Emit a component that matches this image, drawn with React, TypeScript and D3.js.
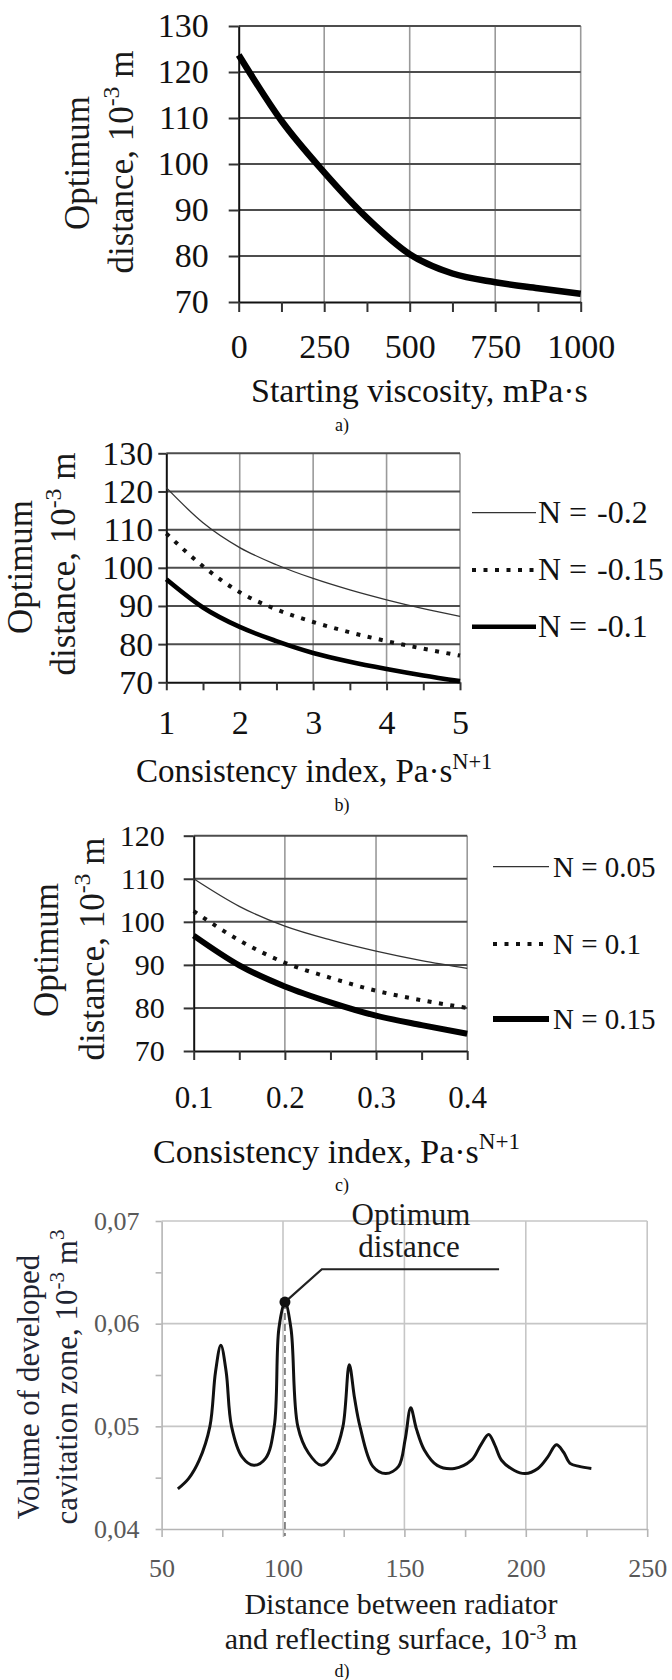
import React, { useEffect, useRef } from 'react';
import * as d3 from 'd3';

// ---------- data ----------
// a) optimum distance vs starting viscosity
const viscosity = [0, 125, 250, 375, 500, 625, 750, 875, 1000];
const optimumByViscosity = [123.7, 109.4, 98.2, 88.3, 80.4, 76.2, 74.3, 73.0, 71.8];
const viscosityTicks = [0, 125, 250, 375, 500, 625, 750, 875, 1000];
const viscosityTickLabels = ['0', '', '250', '', '500', '', '750', '', '1000'];
const optimumTicksAB = [70, 80, 90, 100, 110, 120, 130];

// b) consistency index, N < 0
const consistencyB = [1, 1.5, 2, 2.5, 3, 3.5, 4, 4.5, 5];
const optimumNm02 = [121, 111.8, 105.3, 100.8, 97.2, 94.2, 91.6, 89.3, 87.3];
const optimumNm015 = [109, 100.4, 93.6, 89.1, 85.8, 83.1, 80.8, 78.8, 77];
const optimumNm01 = [97, 89.6, 84.5, 80.8, 77.7, 75.4, 73.5, 71.8, 70.3];
const consistencyBTicks = [1, 1.5, 2, 2.5, 3, 3.5, 4, 4.5, 5];
const consistencyBTickLabels = ['1', '', '2', '', '3', '', '4', '', '5'];
const legendB = ['-0.2', '-0.15', '-0.1'];

// c) consistency index, N > 0
const consistencyC = [0.1, 0.15, 0.2, 0.25, 0.3, 0.35, 0.4];
const optimumN005 = [110, 103.6, 99, 95.8, 93.2, 91, 89.2];
const optimumN01 = [102.5, 95.7, 90.5, 87, 84, 81.8, 80];
const optimumN015 = [96.8, 89.9, 85, 81.3, 78.2, 76, 74];
const consistencyCTicks = [0.1, 0.15, 0.2, 0.25, 0.3, 0.35, 0.4];
const consistencyCTickLabels = ['0.1', '', '0.2', '', '0.3', '', '0.4'];
const optimumTicksC = [70, 80, 90, 100, 110, 120];
const legendC = ['0.05', '0.1', '0.15'];

// d) volume of developed cavitation zone vs distance
const distanceD = [56.7, 61.1, 65.5, 69.9, 72.2, 74.4, 76.6, 78.8, 83.2, 88.0, 92.9, 96.4, 98.3, 100.8, 103.3,
  106.1, 110.5, 115.8, 121.1, 124.7, 127.3, 129.5, 131.7, 137, 142.3, 147.6, 150.3, 152.6, 155, 158.2, 163.5,
  170.6, 177.6, 181.5, 184.7, 187.2, 190, 195.3, 199.7, 205, 209, 212.6, 215.5, 218.2, 222, 227];
const volumeD = [0.0439, 0.0449, 0.0467, 0.050, 0.0553, 0.0579, 0.0553, 0.050, 0.047, 0.0462, 0.0469, 0.050,
  0.0595, 0.0621, 0.0595, 0.050, 0.0474, 0.0462, 0.0474, 0.050, 0.056, 0.0527, 0.05, 0.0461, 0.0454, 0.0461,
  0.0487, 0.0518, 0.0497, 0.0477, 0.0462, 0.0459, 0.0467, 0.0482, 0.0492, 0.0482, 0.0467, 0.0457, 0.0454,
  0.0459, 0.047, 0.0482, 0.0475, 0.0464, 0.0461, 0.0459];
const distanceTicks = [50, 75, 100, 125, 150, 175, 200, 225, 250];
const distanceTickLabels = ['50', '', '100', '', '150', '', '200', '', '250'];
const volumeTicks = [0.04, 0.045, 0.05, 0.055, 0.06, 0.065, 0.07];
const volumeTickLabels = ['0,04', '', '0,05', '', '0,06', '', '0,07'];
const optimumPoint = [100.8, 0.0621];
const optimumLeader = [[100.8, 0.0621], [116, 0.0653], [189, 0.0653]];

const FONT = "'Liberation Serif', 'DejaVu Serif', serif";

const LINE = {
  thin: { width: 1.3, dash: null, color: '#333' },
  dotted: { width: 4, dash: '4 7.5', color: '#111' },
  thick: { width: 5, dash: null, color: '#000' },
};

// serif text helper: sets family through inline style so it wins over the axis defaults
function font(sel, size, color) {
  return sel.attr('font-family', null).style('font-family', FONT).style('font-size', `${size}px`).attr('fill', color);
}

function superLabel(sel, parts, rise = 0.6) {
  parts.forEach(([t, sup], i) => {
    const prevSup = i > 0 && parts[i - 1][1];
    const ts = sel.append('tspan').text(t);
    if (sup) ts.style('font-size', '0.68em').attr('dy', `-${rise}em`);
    else if (prevSup) ts.attr('dy', `${(rise * 0.68).toFixed(3)}em`);
  });
}

function drawOptimumPanel(svg, p) {
  const { box } = p;
  const x = d3.scaleLinear().domain(d3.extent(p.xTicks)).range([box.left, box.right]);
  const y = d3.scaleLinear().domain(d3.extent(p.yTicks)).range([box.bottom, box.top]);
  const g = svg.append('g');
  const majorX = p.xTicks.filter((_, i) => p.xLabels[i] !== '');

  g.append('g').selectAll('line').data(majorX.slice(1)).join('line')
    .attr('x1', d => x(d)).attr('x2', d => x(d)).attr('y1', box.top).attr('y2', box.bottom)
    .attr('stroke', '#9a9a9a').attr('stroke-width', 1.6);
  g.append('g').selectAll('line').data(p.yTicks.slice(1)).join('line')
    .attr('x1', box.left).attr('x2', box.right).attr('y1', d => y(d)).attr('y2', d => y(d))
    .attr('stroke', '#4d4d4d').attr('stroke-width', 2);

  const yAxis = d3.axisLeft(y).tickValues(p.yTicks).tickSize(p.yTickLen).tickSizeOuter(0)
    .tickPadding(p.yPad).tickFormat(d3.format('d'));
  g.append('g').attr('transform', `translate(${box.left},0)`).call(yAxis)
    .call(s => s.select('.domain').attr('stroke', '#111').attr('stroke-width', 2))
    .call(s => s.selectAll('.tick line').attr('stroke', '#333').attr('stroke-width', 2))
    .call(s => font(s.selectAll('text'), p.tickSize, '#111'));

  const xAxis = d3.axisBottom(x).tickValues(p.xTicks).tickSize(p.xTickLen).tickSizeOuter(0)
    .tickFormat((d, i) => p.xLabels[i]);
  g.append('g').attr('transform', `translate(0,${box.bottom})`).call(xAxis)
    .call(s => s.select('.domain').attr('stroke', '#111').attr('stroke-width', 2))
    .call(s => s.selectAll('.tick line').attr('stroke', '#333').attr('stroke-width', 2))
    .call(s => font(s.selectAll('text'), p.xTickSize || p.tickSize, '#111')
      .attr('y', p.xLabelBase - box.bottom).attr('dy', 0));

  const line = d3.line().x(d => x(d[0])).y(d => y(d[1])).curve(d3.curveMonotoneX);
  p.series.forEach(s => {
    const st = { ...LINE[s.kind], ...(s.width ? { width: s.width } : {}) };
    g.append('path').datum(s.x.map((v, i) => [v, s.y[i]]))
      .attr('d', line).attr('fill', 'none').attr('stroke', st.color)
      .attr('stroke-width', st.width).attr('stroke-dasharray', st.dash)
      .attr('stroke-linejoin', 'round');
  });

  if (p.legend) {
    const L = p.legend;
    p.series.forEach((s, i) => {
      const st = { ...LINE[s.kind], ...(s.width ? { width: s.width } : {}) };
      g.append('line').attr('x1', L.x1).attr('x2', L.x2).attr('y1', L.ys[i]).attr('y2', L.ys[i])
        .attr('stroke', st.color).attr('stroke-width', st.width)
        .attr('stroke-dasharray', st.dash);
      const t = font(g.append('text').attr('y', L.ys[i] + L.baseOff), L.size, '#111');
      if (L.valueX) {
        t.append('tspan').attr('x', L.textX).text('N =');
        t.append('tspan').attr('x', L.valueX).text(L.labels[i]);
      } else {
        t.attr('x', L.textX).text(`N = ${L.labels[i]}`);
      }
    });
  }

  // axis titles
  p.yTitle.forEach(l => {
    const t = font(g.append('text').attr('transform', `translate(${l.x},${l.y}) rotate(-90)`)
      .attr('text-anchor', 'middle'), 35, '#1a1a1a');
    superLabel(t, l.parts);
  });
  const xt = font(g.append('text').attr('x', p.xTitle.x).attr('y', p.xTitle.y), p.xTitle.size, '#111');
  superLabel(xt, p.xTitle.parts);

  font(g.append('text').attr('x', 342).attr('y', p.caption.y).attr('text-anchor', 'middle'), 18, '#111')
    .text(p.caption.text);
}

function drawVolumePanel(svg) {
  const box = { left: 161.6, right: 647.2, top: 1221, bottom: 1529 };
  const x = d3.scaleLinear().domain(d3.extent(distanceTicks)).range([box.left, box.right]);
  const y = d3.scaleLinear().domain(d3.extent(volumeTicks)).range([box.bottom, box.top]);
  const g = svg.append('g');
  const grid = '#c6c6c6';
  const majorX = distanceTicks.filter((_, i) => distanceTickLabels[i] !== '');
  const majorY = volumeTicks.filter((_, i) => volumeTickLabels[i] !== '');

  g.append('g').selectAll('line').data(majorX.slice(1)).join('line')
    .attr('x1', d => x(d)).attr('x2', d => x(d)).attr('y1', box.top).attr('y2', box.bottom)
    .attr('stroke', grid).attr('stroke-width', 1.6);
  g.append('g').selectAll('line').data(majorY.slice(1)).join('line')
    .attr('x1', box.left).attr('x2', box.right).attr('y1', d => y(d)).attr('y2', d => y(d))
    .attr('stroke', grid).attr('stroke-width', 1.6);

  g.append('g').attr('transform', `translate(${box.left},0)`)
    .call(d3.axisLeft(y).tickValues(volumeTicks).tickSize(6).tickSizeOuter(0).tickPadding(16)
      .tickFormat((d, i) => volumeTickLabels[i]))
    .call(s => s.select('.domain').attr('stroke', '#b5b5b5').attr('stroke-width', 1.6))
    .call(s => s.selectAll('.tick line').attr('stroke', '#b5b5b5').attr('stroke-width', 1.6))
    .call(s => font(s.selectAll('text'), 26, '#595959'));
  g.append('g').attr('transform', `translate(0,${box.bottom})`)
    .call(d3.axisBottom(x).tickValues(distanceTicks).tickSize(8).tickSizeOuter(0)
      .tickFormat((d, i) => distanceTickLabels[i]))
    .call(s => s.select('.domain').attr('stroke', '#b5b5b5').attr('stroke-width', 1.6))
    .call(s => s.selectAll('.tick line').attr('stroke', '#b5b5b5').attr('stroke-width', 1.6))
    .call(s => font(s.selectAll('text'), 26, '#595959').attr('y', 48).attr('dy', 0));

  // dashed marker of the optimum
  g.append('line').attr('x1', x(optimumPoint[0])).attr('x2', x(optimumPoint[0]))
    .attr('y1', y(optimumPoint[1])).attr('y2', box.bottom + 7)
    .attr('stroke', '#6f6f6f').attr('stroke-width', 1.6).attr('stroke-dasharray', '7 4');

  g.append('path').datum(distanceD.map((v, i) => [v, volumeD[i]]))
    .attr('d', d3.line().x(d => x(d[0])).y(d => y(d[1])).curve(d3.curveCatmullRom.alpha(0.5)))
    .attr('fill', 'none').attr('stroke', '#111').attr('stroke-width', 3).attr('stroke-linejoin', 'round');

  g.append('path').datum(optimumLeader)
    .attr('d', d3.line().x(d => x(d[0])).y(d => y(d[1])))
    .attr('fill', 'none').attr('stroke', '#222').attr('stroke-width', 2.2);
  g.append('circle').attr('cx', x(optimumPoint[0])).attr('cy', y(optimumPoint[1])).attr('r', 5.5).attr('fill', '#111');

  font(g.append('text').attr('x', 411).attr('y', 1225).attr('text-anchor', 'middle'), 31, '#1a1a1a').text('Optimum');
  font(g.append('text').attr('x', 409).attr('y', 1257).attr('text-anchor', 'middle'), 31, '#1a1a1a').text('distance');

  [
    { x: 39, y: 1387, parts: [['Volume of developed', false]] },
    { x: 77, y: 1377, parts: [['cavitation zone, 10', false], ['-3', true], [' m', false], ['3', true]] },
  ].forEach(l => {
    const t = font(g.append('text').attr('transform', `translate(${l.x},${l.y}) rotate(-90)`)
      .attr('text-anchor', 'middle'), 31, '#1e2433');
    superLabel(t, l.parts);
  });

  const t1 = font(g.append('text').attr('x', 401).attr('y', 1614).attr('text-anchor', 'middle'), 30, '#1a1a1a');
  superLabel(t1, [['Distance between radiator', false]]);
  const t2 = font(g.append('text').attr('x', 401).attr('y', 1649).attr('text-anchor', 'middle'), 30, '#1a1a1a');
  superLabel(t2, [['and reflecting surface, 10', false], ['-3', true], [' m', false]], 0.5);

  font(g.append('text').attr('x', 342).attr('y', 1677).attr('text-anchor', 'middle'), 18, '#111').text('d)');
}

const yTitleParts = [['distance, 10', false], ['-3', true], [' m', false]];
const consistencyParts = [['Consistency index, Pa·s', false], ['N+1', true]];

const App = () => {
  const ref = useRef(null);

  useEffect(() => {
    const svg = d3.select(ref.current);
    svg.selectAll('*').remove();
    svg.append('rect').attr('width', 672).attr('height', 1680).attr('fill', '#fff');

    drawOptimumPanel(svg, {
      box: { left: 238.7, right: 580.7, top: 26, bottom: 302 },
      xTicks: viscosityTicks, xLabels: viscosityTickLabels, yTicks: optimumTicksAB,
      yTickLen: 10, yPad: 20, xTickLen: 10, xLabelBase: 358, tickSize: 34,
      series: [{ x: viscosity, y: optimumByViscosity, kind: 'thick', width: 6.5 }],
      yTitle: [
        { x: 89, y: 163, parts: [['Optimum', false]] },
        { x: 133, y: 162, parts: yTitleParts },
      ],
      xTitle: { x: 251, y: 402, size: 34, parts: [['Starting viscosity, mPa·s', false]] },
      caption: { text: 'a)', y: 431 },
    });

    drawOptimumPanel(svg, {
      box: { left: 166.3, right: 460, top: 453.3, bottom: 682.3 },
      xTicks: consistencyBTicks, xLabels: consistencyBTickLabels, yTicks: optimumTicksAB,
      yTickLen: 8, yPad: 5, xTickLen: 8, xLabelBase: 734, tickSize: 34,
      series: [
        { x: consistencyB, y: optimumNm02, kind: 'thin' },
        { x: consistencyB, y: optimumNm015, kind: 'dotted' },
        { x: consistencyB, y: optimumNm01, kind: 'thick', width: 4.6 },
      ],
      legend: { labels: legendB, x1: 472, x2: 536, ys: [512.7, 570, 626.7], baseOff: 10, textX: 538, valueX: 597, size: 32 },
      yTitle: [
        { x: 32, y: 567, parts: [['Optimum', false]] },
        { x: 75, y: 564, parts: yTitleParts },
      ],
      xTitle: { x: 136, y: 782, size: 33, parts: consistencyParts },
      caption: { text: 'b)', y: 811 },
    });

    drawOptimumPanel(svg, {
      box: { left: 193.7, right: 467.2, top: 835.7, bottom: 1051 },
      xTicks: consistencyCTicks, xLabels: consistencyCTickLabels, yTicks: optimumTicksC,
      yTickLen: 10, yPad: 19, xTickLen: 9, xLabelBase: 1108, tickSize: 30, xTickSize: 31,
      series: [
        { x: consistencyC, y: optimumN005, kind: 'thin' },
        { x: consistencyC, y: optimumN01, kind: 'dotted' },
        { x: consistencyC, y: optimumN015, kind: 'thick', width: 6 },
      ],
      legend: { labels: legendC, x1: 493, x2: 549, ys: [866.7, 944, 1019], baseOff: 10, textX: 553, size: 29 },
      yTitle: [
        { x: 58, y: 950, parts: [['Optimum', false]] },
        { x: 104, y: 949, parts: yTitleParts },
      ],
      xTitle: { x: 153, y: 1163, size: 34, parts: consistencyParts },
      caption: { text: 'c)', y: 1191 },
    });

    drawVolumePanel(svg);
  }, []);

  return (
    <svg ref={ref} width={672} height={1680}
      style={{ position: 'absolute', left: 0, top: 0, display: 'block' }} />
  );
};

export default App;
